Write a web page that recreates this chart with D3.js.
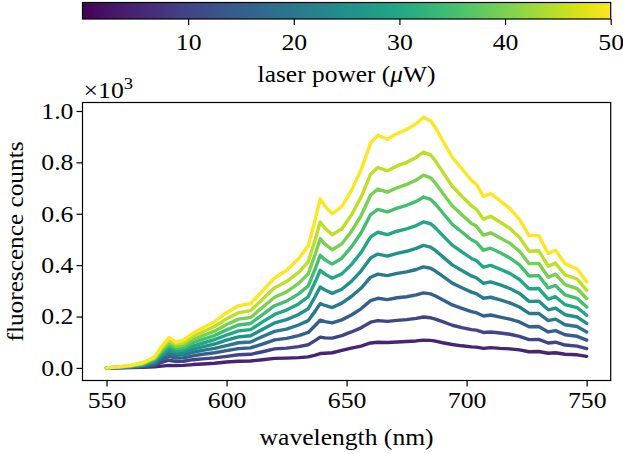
<!DOCTYPE html>
<html>
<head>
<meta charset="utf-8">
<script src="https://cdn.jsdelivr.net/npm/d3@7"></script>
<style>
  html, body { margin: 0; padding: 0; background: #fff; }
  svg text { font-family: "Liberation Serif", "DejaVu Serif", serif; fill: #000; }
</style>
</head>
<body>
<svg id="chart" width="623" height="454"></svg>
<script>
// ---------------- DATA ----------------
const wavelengths = [550,555,560,565,570,573,576,579,582,586,590,595,600,605,610,615,620,625,630,634,637,639,641,644,648,652,656,660,663,667,671,675,679,682,685,687,690,694,698,702,704,707,710,714,718,722,726,730,734,737,741,746,750];

// fluorescence counts (×10^3) for each laser power (µW)
const powers = [5,10,15,20,25,30,35,40,45,50];

const counts5  = [0,0,.001,.002,.004,.007,.010,.009,.010,.013,.015,.018,.023,.026,.027,.032,.037,.038,.040,.043,.050,.056,.057,.059,.068,.077,.085,.097,.100,.099,.101,.103,.105,.108,.107,.104,.098,.091,.086,.082,.081,.076,.079,.076,.074,.070,.063,.064,.057,.059,.053,.051,.045];
const counts10 = [0,.001,.002,.004,.009,.022,.030,.025,.026,.032,.035,.039,.045,.051,.053,.063,.074,.077,.083,.090,.107,.120,.117,.116,.126,.140,.156,.178,.184,.181,.185,.188,.193,.198,.195,.190,.180,.166,.157,.149,.147,.138,.140,.136,.131,.123,.110,.111,.097,.100,.089,.085,.075];
const counts15 = [0,.001,.003,.006,.014,.032,.045,.038,.039,.047,.053,.059,.067,.075,.078,.093,.109,.115,.126,.138,.166,.186,.180,.175,.187,.206,.230,.262,.271,.266,.273,.277,.284,.292,.288,.280,.265,.245,.232,.219,.215,.202,.206,.198,.190,.179,.160,.161,.140,.145,.129,.123,.108];
const counts20 = [0,.002,.004,.008,.019,.042,.058,.049,.051,.061,.068,.076,.087,.098,.101,.122,.142,.151,.167,.184,.222,.250,.243,.235,.252,.278,.310,.353,.365,.359,.368,.374,.383,.393,.388,.377,.357,.330,.312,.295,.289,.271,.275,.265,.253,.237,.212,.212,.184,.190,.168,.161,.140];
const counts25 = [0,.002,.005,.010,.024,.049,.068,.058,.060,.073,.082,.093,.108,.121,.125,.150,.175,.188,.208,.230,.279,.315,.303,.290,.306,.337,.377,.428,.443,.435,.446,.454,.465,.477,.470,.457,.433,.401,.379,.358,.351,.329,.335,.323,.309,.290,.259,.260,.226,.233,.207,.198,.173];
const counts30 = [0,.002,.006,.012,.029,.056,.078,.066,.070,.085,.096,.110,.128,.144,.149,.179,.208,.225,.249,.277,.336,.380,.365,.349,.366,.402,.449,.510,.528,.519,.532,.541,.554,.568,.561,.545,.516,.478,.452,.426,.418,.392,.399,.384,.368,.344,.308,.309,.268,.277,.246,.235,.205];
const counts35 = [0,.003,.007,.014,.033,.063,.088,.075,.079,.098,.111,.126,.148,.167,.173,.207,.242,.260,.288,.319,.387,.438,.421,.404,.427,.471,.525,.597,.617,.607,.622,.633,.648,.665,.656,.638,.604,.559,.529,.499,.489,.458,.466,.448,.428,.401,.358,.359,.311,.321,.284,.271,.237];
const counts40 = [0,.003,.008,.016,.037,.071,.098,.083,.088,.110,.125,.143,.169,.190,.196,.236,.275,.296,.329,.366,.444,.503,.482,.460,.483,.531,.592,.673,.696,.684,.701,.714,.731,.750,.740,.719,.681,.631,.596,.562,.552,.517,.526,.506,.485,.454,.406,.407,.353,.365,.324,.309,.270];
const counts45 = [0,.004,.009,.018,.040,.078,.108,.092,.098,.122,.140,.161,.191,.215,.223,.267,.312,.336,.372,.413,.502,.568,.544,.518,.541,.595,.664,.754,.780,.767,.786,.800,.819,.840,.829,.806,.763,.707,.668,.631,.618,.579,.590,.567,.543,.508,.454,.456,.396,.408,.362,.346,.302];
const counts50 = [0,.004,.010,.020,.042,.085,.118,.100,.108,.135,.155,.180,.215,.242,.250,.300,.350,.380,.425,.475,.580,.658,.630,.600,.628,.690,.770,.875,.905,.890,.912,.928,.950,.975,.962,.935,.885,.820,.775,.730,.715,.668,.678,.650,.620,.578,.515,.515,.445,.458,.405,.385,.335];

const seriesValues = [counts5,counts10,counts15,counts20,counts25,counts30,counts35,counts40,counts45,counts50];

const xTicks = [550,600,650,700,750];
const yTicks = [0.0,0.2,0.4,0.6,0.8,1.0];
const cbTicks = [10,20,30,40,50];

// ---------------- LAYOUT ----------------
const svg = d3.select("#chart");
const plot = {left: 82.5, right: 610.7, top: 102.5, bottom: 380.5};
const cb = {left: 82.5, right: 610.7, top: 2.5, bottom: 19};
const fs = 23;
const sx = 1.12; // horizontal widening to mimic the wider serif of the original

const x = d3.scaleLinear().domain([540, 760]).range([plot.left, plot.right]);
const y = d3.scaleLinear().domain([-0.049, 1.033]).range([plot.bottom, plot.top]);
const cScale = d3.scaleLinear().domain([0, 50]).range([cb.left, cb.right]);
const color = p => d3.interpolateViridis(p / 50);

function styleTicks(g) {
  g.select(".domain").remove();
  g.selectAll(".tick line").attr("stroke", "#000").attr("stroke-width", 1.2);
  g.selectAll(".tick text").attr("font-size", fs).attr("font-family", "Liberation Serif")
    .attr("fill", "#000");
}

// ---------------- COLORBAR ----------------
const defs = svg.append("defs");
const grad = defs.append("linearGradient").attr("id", "viridisGrad")
  .attr("x1", "0%").attr("x2", "100%").attr("y1", "0%").attr("y2", "0%");
d3.range(0, 1.0001, 0.02).forEach(t => {
  grad.append("stop").attr("offset", (t * 100) + "%").attr("stop-color", d3.interpolateViridis(t));
});
svg.append("rect")
  .attr("x", cb.left).attr("y", cb.top)
  .attr("width", cb.right - cb.left).attr("height", cb.bottom - cb.top)
  .attr("fill", "url(#viridisGrad)").attr("stroke", "#000").attr("stroke-width", 1.2);

const cbAxis = d3.axisBottom(cScale).tickValues(cbTicks).tickSize(6).tickPadding(9).tickFormat(d3.format("d"));
const cbG = svg.append("g").attr("transform", `translate(0,${cb.bottom})`).call(cbAxis);
styleTicks(cbG);
cbG.selectAll(".tick text").attr("transform", `scale(${sx},1)`);

const cbLabel = svg.append("text").attr("x", (cb.left + cb.right) / 2).attr("y", 82)
  .attr("text-anchor", "middle").attr("font-size", fs)
  .attr("textLength", 178).attr("lengthAdjust", "spacingAndGlyphs");
cbLabel.append("tspan").text("laser power (");
cbLabel.append("tspan").attr("font-style", "italic").text("μ");
cbLabel.append("tspan").text("W)");

// ---------------- MAIN AXES ----------------
const line = d3.line().x((d, i) => x(wavelengths[i])).y(d => y(d));

const linesG = svg.append("g");
seriesValues.forEach((vals, i) => {
  linesG.append("path")
    .datum(vals)
    .attr("d", line)
    .attr("fill", "none")
    .attr("stroke", color(powers[i]))
    .attr("stroke-width", 3.4)
    .attr("stroke-linejoin", "round")
    .attr("stroke-linecap", "round");
});

const xAxis = d3.axisBottom(x).tickValues(xTicks).tickSize(6).tickPadding(5).tickFormat(d3.format("d"));
const xG = svg.append("g").attr("transform", `translate(0,${plot.bottom})`).call(xAxis);
styleTicks(xG);
xG.selectAll(".tick text").attr("transform", `scale(${sx},1)`);

const yAxis = d3.axisLeft(y).tickValues(yTicks).tickSize(6).tickPadding(3).tickFormat(d3.format(".1f"));
const yG = svg.append("g").attr("transform", `translate(${plot.left},0)`).call(yAxis);
styleTicks(yG);
yG.selectAll(".tick text").attr("x", -9 / sx).attr("transform", `scale(${sx},1)`);

svg.append("rect")
  .attr("x", plot.left).attr("y", plot.top)
  .attr("width", plot.right - plot.left).attr("height", plot.bottom - plot.top)
  .attr("fill", "none").attr("stroke", "#000").attr("stroke-width", 1.2);

// offset text ×10^3
const off = svg.append("text").attr("x", plot.left + 1).attr("y", 98).attr("font-size", fs)
  .attr("transform", `translate(${-(plot.left + 1) * (sx - 1)},0) scale(${sx},1)`);
off.append("tspan").text("×10");
off.append("tspan").attr("font-size", fs * 0.72).attr("dy", -9).text("3");

svg.append("text").attr("x", (plot.left + plot.right) / 2).attr("y", 445)
  .attr("text-anchor", "middle").attr("font-size", fs)
  .attr("textLength", 174).attr("lengthAdjust", "spacingAndGlyphs")
  .text("wavelength (nm)");

svg.append("text")
  .attr("transform", `translate(23,${(plot.top + plot.bottom) / 2}) rotate(-90)`)
  .attr("text-anchor", "middle").attr("font-size", fs)
  .attr("textLength", 200).attr("lengthAdjust", "spacingAndGlyphs")
  .text("fluorescence counts");
</script>
</body>
</html>
